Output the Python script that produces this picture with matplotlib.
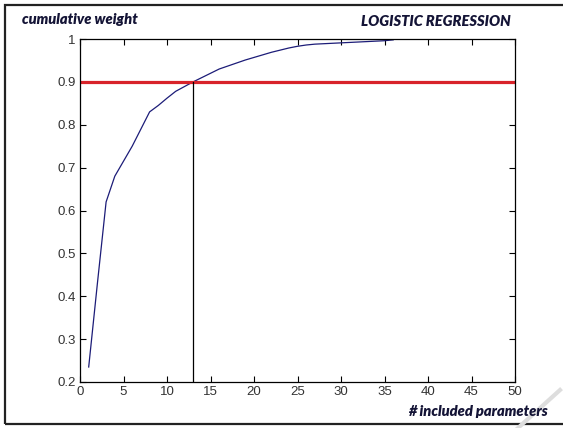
import matplotlib
matplotlib.use("Agg")
import matplotlib.pyplot as plt
from matplotlib.patches import Rectangle
from matplotlib.lines import Line2D

# cumulative weight vs number of included parameters
n_params = list(range(1, 37))
cum_weight = [0.235, 0.43, 0.62, 0.68, 0.715, 0.75, 0.79, 0.83, 0.845, 0.862,
              0.878, 0.889, 0.900, 0.910, 0.920, 0.930, 0.937, 0.944, 0.951, 0.957,
              0.963, 0.969, 0.974, 0.979, 0.983, 0.986, 0.988, 0.989, 0.990, 0.991,
              0.992, 0.993, 0.994, 0.995, 0.996, 0.998]
threshold = 0.9
cut_at = 13
xticks = [0, 5, 10, 15, 20, 25, 30, 35, 40, 45, 50]
yticks = [0.2, 0.3, 0.4, 0.5, 0.6, 0.7, 0.8, 0.9, 1.0]
yticklabels = ["0.2", "0.3", "0.4", "0.5", "0.6", "0.7", "0.8", "0.9", "1"]

W, H = 563, 428
fig = plt.figure(figsize=(W / 100, H / 100), dpi=100)
ax = fig.add_axes([80 / W, (H - 382) / H, (515 - 80) / W, (382 - 39) / H])

ax.plot(n_params, cum_weight, color="#1c1c78", lw=0.9)
ax.axhline(threshold, color="#d8232a", lw=2.3)
ax.plot([cut_at, cut_at], [0.2, threshold], color="black", lw=0.9)

ax.set_xlim(0, 50)
ax.set_ylim(0.2, 1.0)
ax.set_xticks(xticks)
ax.set_yticks(yticks)
ax.set_yticklabels(yticklabels)
ax.tick_params(direction="in", length=4, width=0.8, top=True, right=True,
               labelsize=9.5, labelcolor="#333333", pad=3)
for lab in ax.get_xticklabels() + ax.get_yticklabels():
    lab.set_family("Liberation Sans")
for s in ax.spines.values():
    s.set_linewidth(0.9)

tfont = dict(family="Lato", weight="heavy", style="italic", size=10.5, color="#141436")
fig.text(22 / W, 1 - 20 / H, "cumulative weight", ha="left", va="center", **tfont)
fig.text(511 / W, 1 - 21 / H, "LOGISTIC REGRESSION", ha="right", va="center", **tfont)
fig.text(548 / W, 1 - 411 / H, "# included parameters", ha="right", va="center", **tfont)

# outer frame
fig.patches.append(Rectangle((5 / W, 1 - 424 / H), 1.0, (424 - 5) / H,
                             transform=fig.transFigure, fill=False,
                             edgecolor="#222222", lw=1.6))
# faint watermark stroke
fig.lines.append(Line2D([560 / W, 518 / W], [1 - 390 / H, 0.0],
                        transform=fig.transFigure, color="#dddddd", lw=3))

fig.savefig("out.png", dpi=100)
